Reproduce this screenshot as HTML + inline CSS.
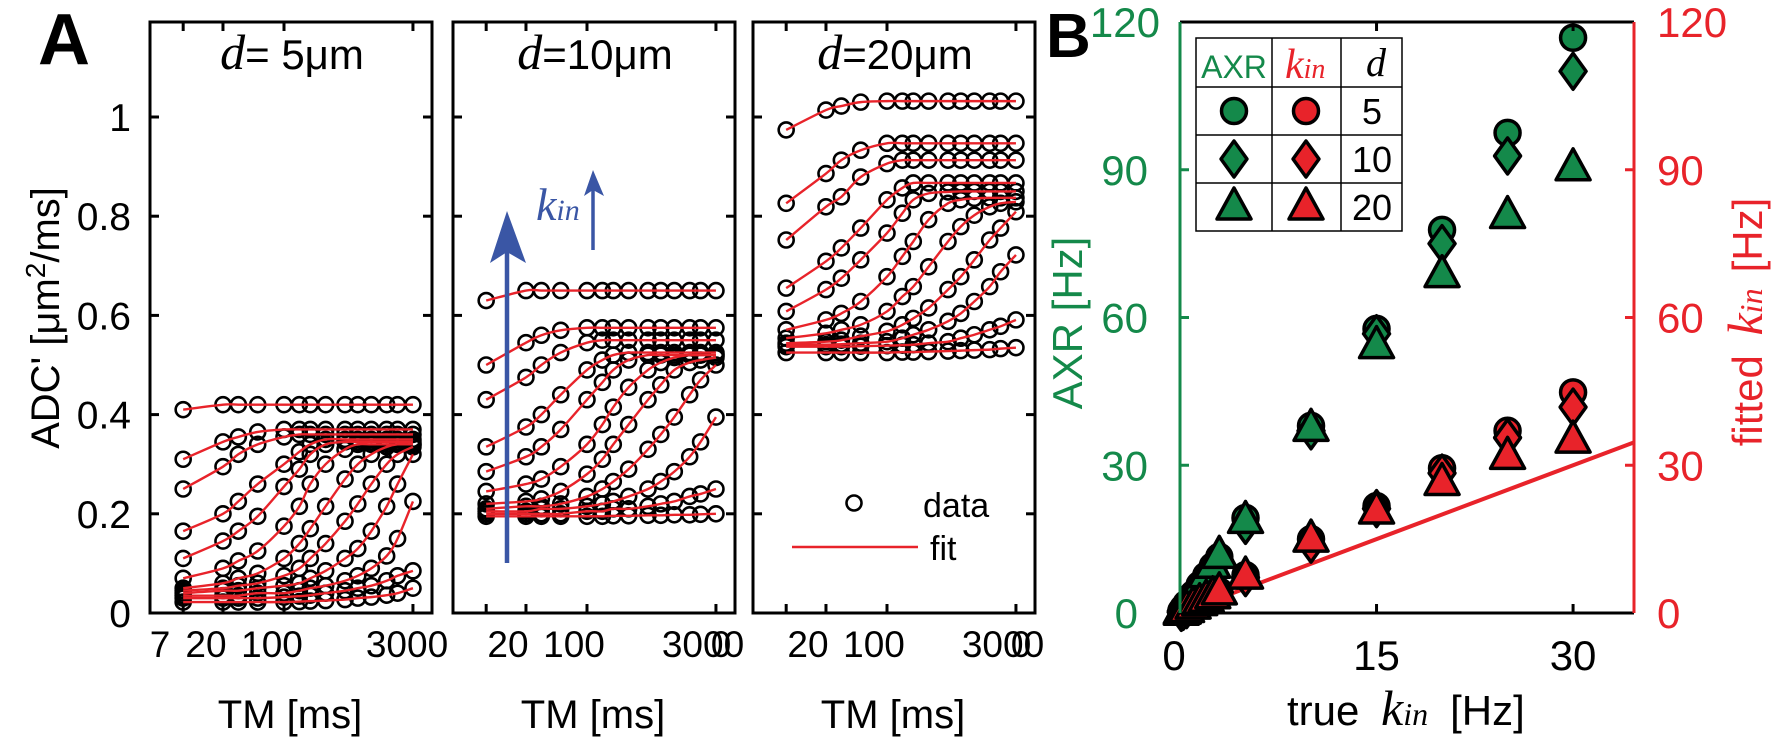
<!DOCTYPE html>
<html><head><meta charset="utf-8"><style>
html,body{margin:0;padding:0;background:#fff;}
svg{display:block;font-family:"Liberation Sans",sans-serif;}
</style></head><body>
<svg id="fig" width="1775" height="742" viewBox="0 0 1775 742" xmlns="http://www.w3.org/2000/svg">
<g id="panelA"></g>
<g id="panelB"></g>
</svg>
<script>
const tmValues = [7,20,30,50,100,150,200,300,500,700,1000,1500,2000,3000];
const xTickValuesA = [7,20,100,3000];
const yTickValuesA = [0,0.2,0.4,0.6,0.8,1];
const yTickLabelsA = ["0","0.2","0.4","0.6","0.8","1"];
const panelTitles = ["5μm","10μm","20μm"];
const sp1Curves = [
 [0.41,0.42,0.42,0.42,0.42,0.42,0.42,0.42,0.42,0.42,0.42,0.42,0.42,0.42],
 [0.31,0.345,0.355,0.365,0.37,0.37,0.37,0.37,0.37,0.37,0.37,0.37,0.37,0.37],
 [0.25,0.295,0.32,0.34,0.355,0.36,0.36,0.36,0.36,0.36,0.36,0.36,0.36,0.36],
 [0.165,0.2,0.225,0.26,0.3,0.325,0.34,0.35,0.35,0.35,0.35,0.35,0.35,0.35],
 [0.11,0.145,0.165,0.195,0.255,0.29,0.32,0.34,0.345,0.345,0.345,0.345,0.345,0.345],
 [0.07,0.09,0.105,0.125,0.175,0.215,0.26,0.3,0.33,0.34,0.34,0.34,0.34,0.34],
 [0.05,0.06,0.07,0.08,0.11,0.14,0.17,0.215,0.27,0.3,0.32,0.335,0.34,0.34],
 [0.045,0.05,0.055,0.06,0.075,0.09,0.11,0.14,0.185,0.22,0.26,0.3,0.32,0.335],
 [0.04,0.045,0.045,0.05,0.055,0.06,0.07,0.085,0.11,0.13,0.165,0.215,0.26,0.32],
 [0.035,0.035,0.035,0.04,0.04,0.045,0.05,0.055,0.065,0.075,0.09,0.115,0.15,0.225],
 [0.03,0.03,0.03,0.03,0.032,0.034,0.036,0.04,0.045,0.05,0.055,0.065,0.075,0.085],
 [0.022,0.022,0.022,0.022,0.022,0.023,0.024,0.025,0.027,0.03,0.032,0.036,0.04,0.05]
];
const sp2Curves = [
 [0.63,0.65,0.65,0.65,0.65,0.65,0.65,0.65,0.65,0.65,0.65,0.65,0.65,0.65],
 [0.5,0.545,0.56,0.57,0.575,0.575,0.575,0.575,0.575,0.575,0.575,0.575,0.575,0.575],
 [0.43,0.475,0.5,0.525,0.545,0.55,0.55,0.55,0.55,0.55,0.55,0.55,0.55,0.55],
 [0.335,0.375,0.4,0.44,0.49,0.51,0.52,0.525,0.525,0.525,0.525,0.525,0.525,0.525],
 [0.285,0.315,0.335,0.37,0.43,0.465,0.49,0.51,0.52,0.52,0.52,0.52,0.52,0.52],
 [0.245,0.26,0.27,0.295,0.34,0.38,0.415,0.455,0.49,0.505,0.515,0.52,0.52,0.52],
 [0.22,0.225,0.23,0.245,0.28,0.31,0.34,0.38,0.43,0.46,0.49,0.505,0.51,0.515],
 [0.21,0.215,0.215,0.22,0.235,0.25,0.265,0.29,0.33,0.36,0.395,0.44,0.47,0.5],
 [0.205,0.205,0.21,0.21,0.215,0.22,0.225,0.235,0.25,0.265,0.285,0.315,0.345,0.395],
 [0.2,0.2,0.2,0.2,0.205,0.205,0.21,0.21,0.215,0.22,0.225,0.235,0.24,0.25],
 [0.195,0.195,0.195,0.195,0.195,0.195,0.196,0.196,0.197,0.197,0.198,0.198,0.199,0.2]
];
const sp3Curves = [
 [0.974,1.014,1.022,1.03,1.032,1.032,1.032,1.032,1.032,1.032,1.032,1.032,1.032,1.032],
 [0.826,0.886,0.913,0.933,0.947,0.947,0.947,0.947,0.947,0.947,0.947,0.947,0.947,0.947],
 [0.752,0.819,0.839,0.879,0.906,0.913,0.913,0.913,0.913,0.913,0.913,0.913,0.913,0.913],
 [0.655,0.709,0.736,0.776,0.833,0.857,0.867,0.867,0.867,0.867,0.867,0.867,0.867,0.867],
 [0.608,0.652,0.675,0.712,0.766,0.806,0.833,0.846,0.849,0.85,0.85,0.85,0.85,0.85],
 [0.571,0.591,0.604,0.628,0.678,0.719,0.749,0.793,0.826,0.833,0.836,0.837,0.837,0.837],
 [0.554,0.564,0.571,0.581,0.608,0.638,0.658,0.698,0.749,0.779,0.802,0.819,0.826,0.829],
 [0.544,0.547,0.55,0.558,0.568,0.581,0.594,0.615,0.652,0.678,0.712,0.752,0.776,0.809],
 [0.541,0.541,0.542,0.544,0.547,0.554,0.561,0.571,0.588,0.604,0.628,0.658,0.688,0.722],
 [0.537,0.537,0.537,0.538,0.539,0.54,0.541,0.544,0.547,0.554,0.561,0.571,0.578,0.591],
 [0.525,0.525,0.525,0.525,0.525,0.526,0.526,0.527,0.528,0.529,0.53,0.531,0.533,0.535]
];
const trueKin = [0.1,0.25,0.5,1,1.5,2,2.5,3,5,10,15,20,25,30];
const axrCircle  = [0.4,1,1.9,3.8,5.7,7.6,9.5,11.4,19.3,38,57.7,77.8,97.5,116.8];
const axrDiamond = [0.4,0.9,1.8,3.6,5.4,7.2,9,10.8,17.8,37,56.7,75,92.8,110];
const axrTriangle= [0.4,1,1.9,3.9,5.8,7.8,9.7,11.7,18.8,37.5,54.3,68.7,80.7,90.4];
const kinCircle  = [0.15,0.37,0.75,1.5,2.2,2.9,3.7,4.4,7.7,15,21.7,29.4,37,44.8];
const kinDiamond = [0.14,0.35,0.7,1.4,2.1,2.8,3.5,4.2,7.2,14,21.2,28.4,35.6,41.8];
const kinTriangle= [0.14,0.35,0.7,1.4,2.1,2.8,3.5,4.3,7.5,15,20.7,26.5,31.8,35.1];
const identityX = [0,35];
const identityY = [0,35];
const xTickValuesB = [0,15,30];
const yTickValuesB = [0,30,60,90,120];

const NS="http://www.w3.org/2000/svg";
function mk(tag,attrs,parent,text){const e=document.createElementNS(NS,tag);for(const k in attrs)e.setAttribute(k,attrs[k]);if(text!==undefined)e.textContent=text;parent.appendChild(e);return e;}
const RED="#e8232a", GREEN="#14894a", BLUE="#3a56a5";

// ---------- Panel A ----------
const A=document.getElementById('panelA');
const TOP=22, BOT=613;
function yA(v){return 613-496*v;}
const subLefts=[150,453,753];
const subW=282;
function xA(left,tm){return left+134+87.3*Math.log10(tm/100);}
let t=mk('text',{x:38,y:64,'font-size':72,'font-weight':'bold'},A,'A');

t=mk('text',{transform:'translate(59,318) rotate(-90)','text-anchor':'middle','font-size':40},A);

t.innerHTML="ADC' [μm<tspan dy='-14' font-size='28'>2</tspan><tspan dy='14'>/ms]</tspan>";
const allCurves=[sp1Curves,sp2Curves,sp3Curves];
function smoothPath(pts){let d=`M${pts[0][0]},${pts[0][1]}`;for(let i=0;i<pts.length-1;i++){const p0=pts[Math.max(0,i-1)],p1=pts[i],p2=pts[i+1],p3=pts[Math.min(pts.length-1,i+2)];const c1x=p1[0]+(p2[0]-p0[0])/6,c1y=p1[1]+(p2[1]-p0[1])/6,c2x=p2[0]-(p3[0]-p1[0])/6,c2y=p2[1]-(p3[1]-p1[1])/6;d+=` C${c1x},${c1y} ${c2x},${c2y} ${p2[0]},${p2[1]}`;}return d;}
subLefts.forEach((L,si)=>{
  const g=mk('g',{},A);
  
  
  allCurves[si].forEach((c,ci)=>{
    c.forEach((v,k)=>{const m=mk('circle',{cx:xA(L,tmValues[k]),cy:yA(v),r:7.5,fill:'none',stroke:'#000','stroke-width':2.6},g);
      });
  });
  allCurves[si].forEach((c,ci)=>{
    const pts=c.map((v,k)=>[xA(L,tmValues[k]),yA(v)]);
    const p=mk('path',{d:smoothPath(pts),fill:'none',stroke:RED,'stroke-width':2.4},g);
    
  });
  const f=mk('rect',{x:L,y:TOP,width:subW,height:BOT-TOP,fill:'none',stroke:'#000','stroke-width':3},g);
  
  yTickValuesA.forEach(v=>{if(v===0)return;const y=yA(v);
    mk('line',{x1:L,x2:L+9,y1:y,y2:y,stroke:'#000','stroke-width':3},g);
    mk('line',{x1:L+subW-9,x2:L+subW,y1:y,y2:y,stroke:'#000','stroke-width':3},g);});
  xTickValuesA.forEach(tv=>{const x=xA(L,tv);
    mk('line',{x1:x,x2:x,y1:BOT,y2:BOT-9,stroke:'#000','stroke-width':3},g);
    mk('line',{x1:x,x2:x,y1:TOP,y2:TOP+9,stroke:'#000','stroke-width':3},g);});
  const lbls = si===0?[["7",160],["20",206],["100",272],["3000",407]]:[["20",L+55],["100",L+121],["3000",L+250]];
  lbls.forEach(([s,x])=>{const e=mk('text',{x:x,y:657,'text-anchor':'middle','font-size':37},g,s);
    });
  if(si>0){const e=mk('text',{x:L+268,y:657,'text-anchor':'middle','font-size':37},g,'0');}
  const xl=mk('text',{x:L+140,y:728,'text-anchor':'middle','font-size':40},g,'TM [ms]');
  
  const tt=mk('text',{x:L+142,y:69,'text-anchor':'middle','font-size':42},g);
  
  tt.innerHTML=`<tspan font-family="Liberation Serif,serif" font-style="italic" font-size="50">d</tspan><tspan>=${si===0?' ':''}${panelTitles[si]}</tspan>`;
});
yTickValuesA.forEach((v,i)=>{const e=mk('text',{x:131,y:yA(v)+14,'text-anchor':'end','font-size':39},A,yTickLabelsA[i]);
  });
let ar=mk('g',{},A);
mk('line',{x1:507,y1:563,x2:507,y2:250,stroke:BLUE,'stroke-width':4.5},ar);
mk('polygon',{points:'507,211 490,263 507,252 526,263',fill:BLUE},ar);
mk('line',{x1:593,y1:250,x2:593,y2:185,stroke:BLUE,'stroke-width':3.5},ar);
mk('polygon',{points:'593,170 584,196 593,190 604,196',fill:BLUE},ar);
t=mk('text',{x:536,y:220,fill:BLUE,'font-family':'Liberation Serif,serif','font-style':'italic','font-size':46},ar);
t.innerHTML='k<tspan font-size="30">in</tspan>';
let lg=mk('g',{},A);
mk('circle',{cx:854,cy:503,r:7.5,fill:'none',stroke:'#000','stroke-width':2.6},lg);
mk('text',{x:923,y:517,'font-size':34},lg,'data');
mk('line',{x1:792,x2:918,y1:547,y2:547,stroke:RED,'stroke-width':2.6},lg);
mk('text',{x:930,y:560,'font-size':34},lg,'fit');

// ---------- Panel B ----------
const B=document.getElementById('panelB');
const BL=1180,BR=1634,BT=22,BB=613,XMAX=34.65;
function xB(v){return BL+(BR-BL)*v/XMAX;}
function yB(v){return BB-(BB-BT)*v/120;}
t=mk('text',{x:1046,y:57,'font-size':62,'font-weight':'bold'},B,'B');

function marker(g,type,x,y,fill){
  let e;
  if(type==='circle') e=mk('circle',{cx:x,cy:y,r:12.5,fill:fill,stroke:'#000','stroke-width':3.5},g);
  else if(type==='diamond') e=mk('polygon',{points:`${x},${y-18} ${x+13},${y} ${x},${y+18} ${x-13},${y}`,fill:fill,stroke:'#000','stroke-width':3.5,'stroke-linejoin':'round'},g);
  else e=mk('polygon',{points:`${x},${y-19} ${x+17},${y+12} ${x-17},${y+12}`,fill:fill,stroke:'#000','stroke-width':3.5,'stroke-linejoin':'round'},g);
  return e;
}
const idl=mk('line',{x1:xB(identityX[0]),y1:yB(identityY[0]),x2:xB(Math.min(identityX[1],XMAX)),y2:yB(Math.min(identityY[1],XMAX)),stroke:RED,'stroke-width':4},B);

const seriesB=[[axrCircle,'circle',GREEN],[axrDiamond,'diamond',GREEN],[axrTriangle,'triangle',GREEN],[kinCircle,'circle',RED],[kinDiamond,'diamond',RED],[kinTriangle,'triangle',RED]];
seriesB.forEach(([arr,type,col])=>{
  const g=mk('g',{},B);
  arr.forEach((v,i)=>{const m=marker(g,type,xB(trueKin[i]),yB(v),col);
    });
});
mk('line',{x1:BL,x2:BR,y1:BT,y2:BT,stroke:'#000','stroke-width':3},B);
mk('line',{x1:BL,x2:BR,y1:BB,y2:BB,stroke:'#000','stroke-width':3},B);
let ax=mk('line',{x1:BL,x2:BL,y1:BT,y2:BB,stroke:GREEN,'stroke-width':3},B);

ax=mk('line',{x1:BR,x2:BR,y1:BT,y2:BB,stroke:RED,'stroke-width':3},B);

yTickValuesB.forEach(v=>{if(v===0||v===120)return;const y=yB(v);
  mk('line',{x1:BL,x2:BL+9,y1:y,y2:y,stroke:GREEN,'stroke-width':3},B);
  mk('line',{x1:BR-9,x2:BR,y1:y,y2:y,stroke:RED,'stroke-width':3},B);});
xTickValuesB.forEach(v=>{if(v===0)return;const x=xB(v);
  mk('line',{x1:x,x2:x,y1:BB,y2:BB-9,stroke:'#000','stroke-width':3},B);
  mk('line',{x1:x,x2:x,y1:BT,y2:BT+9,stroke:'#000','stroke-width':3},B);});
yTickValuesB.forEach(v=>{const y=yB(v)+15;
  const rx=v===120?1160:(v===0?1138:1148);
  let e=mk('text',{x:rx,y:y,'text-anchor':'end','font-size':42,fill:GREEN},B,String(v));
  
  e=mk('text',{x:1657,y:y,'font-size':42,fill:RED},B,String(v));
  });
xTickValuesB.forEach(v=>{const e=mk('text',{x:xB(v)-(v===0?6:0),y:670,'text-anchor':'middle','font-size':42},B,String(v));
  });
t=mk('text',{x:1287,y:725,'font-size':42,'xml:space':'preserve'},B);

t.innerHTML='true <tspan dx="10" font-family="Liberation Serif,serif" font-style="italic" font-size="50">k</tspan><tspan font-family="Liberation Serif,serif" font-style="italic" font-size="32">in</tspan><tspan dx="22">[Hz]</tspan>';
t=mk('text',{transform:'translate(1082,323) rotate(-90)','text-anchor':'middle','font-size':42,fill:GREEN},B,'AXR [Hz]');

t=mk('text',{transform:'translate(1762,322) rotate(-90)','text-anchor':'middle','font-size':42,fill:RED},B);

t.innerHTML='fitted <tspan dx="8" font-family="Liberation Serif,serif" font-style="italic" font-size="50">k</tspan><tspan font-family="Liberation Serif,serif" font-style="italic" font-size="32">in</tspan><tspan dx="16">[Hz]</tspan>';
const tb=mk('g',{},B);
mk('rect',{x:1196,y:38,width:206,height:193,fill:'#fff',stroke:'#000','stroke-width':1.5},tb);
[1272,1341].forEach(x=>mk('line',{x1:x,x2:x,y1:38,y2:231,stroke:'#000','stroke-width':1.5},tb));
[87,135,183].forEach(y=>mk('line',{x1:1196,x2:1402,y1:y,y2:y,stroke:'#000','stroke-width':1.5},tb));
mk('text',{x:1234,y:78,'text-anchor':'middle','font-size':32,fill:GREEN},tb,'AXR');
t=mk('text',{x:1285,y:78,'font-size':42,fill:RED,'font-family':'Liberation Serif,serif','font-style':'italic'},tb);
t.innerHTML='k<tspan font-size="28">in</tspan>';
mk('text',{x:1366,y:76,'font-size':40,'font-family':'Liberation Serif,serif','font-style':'italic'},tb,'d');
const rows=[['circle','5',111],['diamond','10',159],['triangle','20',207]];
rows.forEach(([type,lab,cy])=>{
  marker(tb,type,1234,cy,GREEN);marker(tb,type,1306,cy,RED);
  mk('text',{x:1372,y:cy+13,'text-anchor':'middle','font-size':36},tb,lab);
});
</script>
</body></html>
